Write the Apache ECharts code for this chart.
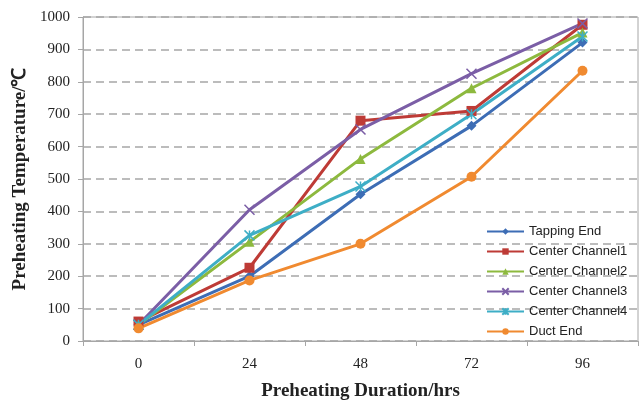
<!DOCTYPE html>
<html><head><meta charset="utf-8">
<script src="https://cdn.jsdelivr.net/npm/echarts@6/dist/echarts.min.js"></script>
<style>html,body{margin:0;padding:0;background:#fff}#c{width:641px;height:406px}</style>
</head><body><div id="c"></div>
<script>
const categories = ['0', '24', '48', '72', '96'];
const tappingEnd = [50, 200, 453, 664, 921];
const centerChannel1 = [60, 226, 680, 710, 976];
const centerChannel2 = [50, 306, 562, 780, 952];
const centerChannel3 = [50, 405, 653, 825, 980];
const centerChannel4 = [50, 326, 477, 700, 940];
const ductEnd = [39, 187, 300, 507, 834];
const yTicks = [0, 100, 200, 300, 400, 500, 600, 700, 800, 900, 1000];

const chart = echarts.init(document.getElementById('c'));
const cross = 'path://M0,0L10,10M10,0L0,10';
const star = 'path://M0,0L10,10M10,0L0,10M5,0L5,10';
function s(name, data, color, symbol, size, stroke) {
  return {
    name, type: 'line', data, symbol, symbolSize: size,
    lineStyle: { color, width: 3 },
    itemStyle: stroke ? { color: 'rgba(0,0,0,0)', borderColor: color, borderWidth: 1.5 } : { color },
    emphasis: { disabled: true }
  };
}
chart.setOption({
  animation: false,
  grid: { left: 83, right: 3, top: 17, bottom: 58, show: true, borderColor: '#a6a6a6', borderWidth: 1 },
  legend: {
    orient: 'vertical', left: 481, top: 220, itemGap: 7, itemWidth: 37, itemHeight: 8,
    textStyle: { fontFamily: 'Liberation Sans, Arial', fontSize: 13, color: '#222' },
    data: ['Tapping End', 'Center Channel1', 'Center Channel2', 'Center Channel3', 'Center Channel4', 'Duct End']
  },
  xAxis: {
    type: 'category', data: categories, boundaryGap: true,
    name: 'Preheating Duration/hrs', nameLocation: 'middle', nameGap: 41,
    nameTextStyle: { fontFamily: 'Liberation Serif', fontWeight: 'bold', fontSize: 19, color: '#222' },
    axisLine: { lineStyle: { color: '#a6a6a6', width: 1 } },
    axisTick: { show: true, length: 5, lineStyle: { color: '#a6a6a6' } },
    axisLabel: { fontFamily: 'Liberation Serif', fontSize: 15, color: '#222', margin: 16 }
  },
  yAxis: {
    type: 'value', min: 0, max: 1000, interval: 100,
    name: 'Preheating Temperature/℃', nameLocation: 'middle', nameGap: 50,
    nameTextStyle: { fontFamily: 'Liberation Serif', fontWeight: 'bold', fontSize: 19, color: '#222' },
    axisLine: { show: true, lineStyle: { color: '#a6a6a6', width: 1 } },
    axisTick: { show: true, length: 5, lineStyle: { color: '#a6a6a6' } },
    axisLabel: { fontFamily: 'Liberation Serif', fontSize: 15, color: '#222', margin: 13,
      formatter: v => yTicks.includes(v) ? String(v) : '' },
    splitLine: { show: true, lineStyle: { color: '#a6a6a6', type: [8, 5], width: 1.5 } }
  },
  series: [
    s('Tapping End', tappingEnd, '#3d6db5', 'diamond', 10),
    s('Center Channel1', centerChannel1, '#be3b36', 'rect', 10),
    s('Center Channel2', centerChannel2, '#8db93e', 'triangle', 10),
    s('Center Channel3', centerChannel3, '#7b5ea6', cross, 10, true),
    s('Center Channel4', centerChannel4, '#3eaec6', star, 10, true),
    s('Duct End', ductEnd, '#f08a30', 'circle', 10)
  ]
});
</script></body></html>
